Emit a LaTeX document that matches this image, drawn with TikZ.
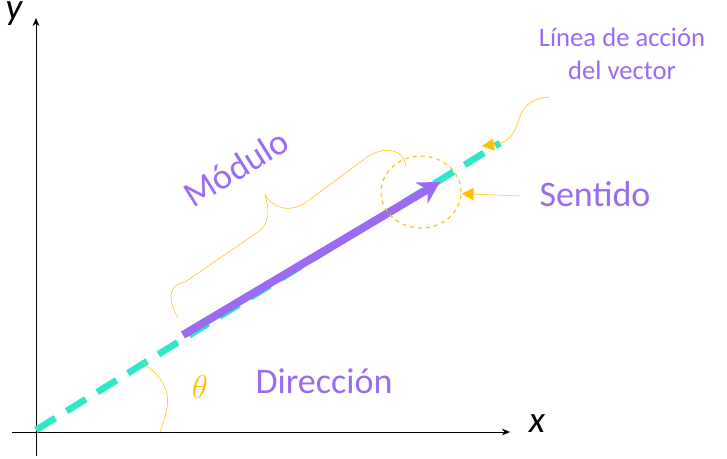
\documentclass[tikz,border=0pt]{standalone}
\usepackage{fontspec}
\setmainfont{Carlito}
\usetikzlibrary{arrows.meta, positioning, shapes.geometric}
\definecolor{vpurple}{HTML}{9B6BF2}
\definecolor{vteal}{HTML}{2EE8C8}
\definecolor{vyellow}{HTML}{FFC000}
\begin{document}
\begin{tikzpicture}
	[x=0.75pt,y=-0.75pt,
	axis/.style={draw=black,thin,-{Stealth[length=6pt,width=5pt]}},
	note/.style={draw=vyellow,thin},
	label/.style={text=vpurple,font=\fontsize{27}{32}\selectfont},
	small/.style={text=vpurple,font=\fontsize{20}{25}\selectfont,align=center}
	]
	\useasboundingbox (0,0) rectangle (727,458);
	% axes
	\coordinate (o) at (36,430);
	\coordinate (xs) at (12,432);
	\coordinate (xe) at (510,432);
	\coordinate (ys) at (36,456);
	\coordinate (ye) at (36,18);
	\draw [axis] (xs) -- (xe);
	\draw [axis] (ys) -- (ye);
	\node (xl) at (537,424) {\fontsize{28}{32}\selectfont\itshape x};
	\node (yl) at (14,14) {\fontsize{28}{32}\selectfont\itshape y};
	% line of action
	\coordinate (la) at (500,143);
	\draw [vteal,line width=5pt,dash pattern=on 17pt off 10pt] (o) -- (la);
	% vector
	\coordinate (vs) at (183,335);
	\coordinate (ve) at (440,182);
	\draw [vpurple,line width=6pt,-{Stealth[length=16pt,width=18pt,inset=5pt]}] (vs) -- (ve);
	% modulus brace
	\draw [note] (178,318) .. controls (166,296) and (170,285) .. (185,282)
		-- (258,232) .. controls (272,222) and (268,205) .. (265,195)
		.. controls (275,210) and (290,212) .. (305,203)
		-- (370,155) .. controls (390,145) and (405,152) .. (406,167);
	\node (mod) [label,rotate=32] at (236,168) {Módulo};
	% sense
	\node (sen) [draw=vyellow,thick,dashed,ellipse,inner sep=0pt,minimum width=60pt,minimum height=54pt] at (421,192) {};
	\node (sent) [label] at (595,194) {Sentido};
	\draw [note,-{Triangle[length=9pt,width=9pt]}] (520,196) -- (sen);
	% line of action label
	\node (lin) [small] at (622,54) {Línea de acción\\del vector};
	\coordinate (lc) at (550,97);
	\draw [note,-{Triangle[length=9pt,width=9pt]}] (lc) .. controls (505,100) and (530,140) .. (482,146);
	% direction
	\draw [note] (143,363) .. controls (175,385) and (170,405) .. (160,432);
	\node (th) at (200,387) {\color{vyellow}\fontsize{28}{32}\selectfont$\mathrm{\theta}$};
	\node (dir) [label] at (324,381) {Dirección};
\end{tikzpicture}
\end{document}
